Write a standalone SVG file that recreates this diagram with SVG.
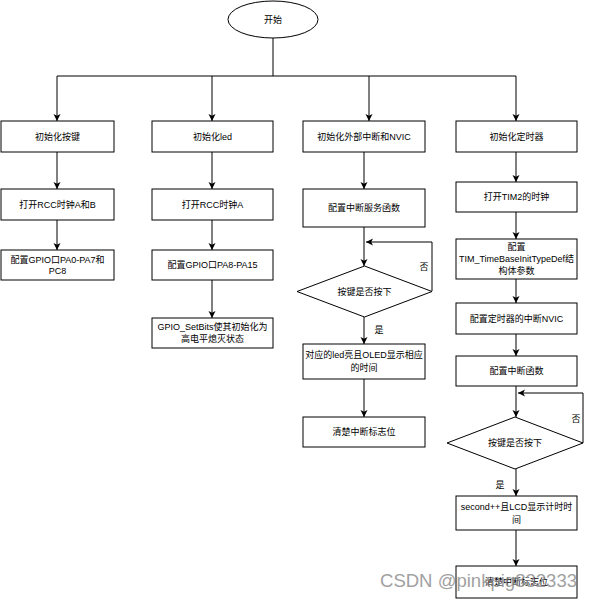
<svg xmlns="http://www.w3.org/2000/svg" width="592" height="600" viewBox="0 0 592 600">
<defs>
<style>
.b{fill:#fff;stroke:#000;stroke-width:1}
.t{font-family:"Liberation Sans","Noto Sans CJK SC",sans-serif;font-size:9px;fill:#000;text-anchor:middle;dominant-baseline:central}
.c{fill:none;stroke:#000;stroke-width:1}
.wm{font-family:"Liberation Sans",Arial,sans-serif;font-size:18px;fill:#8a8a8a;opacity:0.8}
</style>
<marker id="a" markerUnits="userSpaceOnUse" markerWidth="8" markerHeight="8" refX="7" refY="4" orient="auto">
<path d="M0,0.5 L7,4 L0,7.5 L1.8,4 z" fill="#000"/>
</marker>
</defs>
<rect width="592" height="600" fill="#fff"/>
<g id="connectors">
<path class="c" d="M273,38 V76"/>
<path class="c" d="M57,76 H516"/>
<path class="c" marker-end="url(#a)" d="M57,76 V121"/>
<path class="c" marker-end="url(#a)" d="M212,76 V121"/>
<path class="c" marker-end="url(#a)" d="M369,76 V121"/>
<path class="c" marker-end="url(#a)" d="M516,76 V121"/>
<path class="c" marker-end="url(#a)" d="M57,152 V189"/>
<path class="c" marker-end="url(#a)" d="M57,220 V250"/>
<path class="c" marker-end="url(#a)" d="M212,152 V189"/>
<path class="c" marker-end="url(#a)" d="M212,220 V250"/>
<path class="c" marker-end="url(#a)" d="M212,280 V318"/>
<path class="c" marker-end="url(#a)" d="M364,152 V189"/>
<path class="c" marker-end="url(#a)" d="M364,227 V266"/>
<path class="c" marker-end="url(#a)" d="M432,291 V242 H366"/>
<path class="c" marker-end="url(#a)" d="M364,317 V344"/>
<path class="c" marker-end="url(#a)" d="M364,379 V417"/>
<path class="c" marker-end="url(#a)" d="M516,152 V182"/>
<path class="c" marker-end="url(#a)" d="M516,212 V239"/>
<path class="c" marker-end="url(#a)" d="M516,279 V303"/>
<path class="c" marker-end="url(#a)" d="M516,334 V356"/>
<path class="c" marker-end="url(#a)" d="M516,386 V417"/>
<path class="c" marker-end="url(#a)" d="M583,443 V393 H518"/>
<path class="c" marker-end="url(#a)" d="M516,469 V496"/>
<path class="c" marker-end="url(#a)" d="M516,530 V566"/>
<text class="t" x="424" y="267">否</text>
<text class="t" x="379" y="330">是</text>
<text class="t" x="576" y="419">否</text>
<text class="t" x="500" y="485">是</text>
</g>
<g id="start"><ellipse class="b" cx="273" cy="19.5" rx="45" ry="18.5"/><text class="t" x="273" y="19.5">开始</text></g>
<g id="k1"><rect class="b" x="1" y="121" width="113" height="31"/><text class="t" x="57.5" y="136.5">初始化按键</text></g>
<g id="k2"><rect class="b" x="1" y="189" width="113" height="31"/><text class="t" x="57.5" y="204.5">打开RCC时钟A和B</text></g>
<g id="k3"><rect class="b" x="1" y="250" width="113" height="30"/><text class="t" x="57.5" y="260">配置GPIO口PA0-PA7和</text><text class="t" x="57.5" y="271">PC8</text></g>
<g id="l1"><rect class="b" x="152" y="121" width="121" height="31"/><text class="t" x="212.5" y="136.5">初始化led</text></g>
<g id="l2"><rect class="b" x="152" y="189" width="121" height="31"/><text class="t" x="212.5" y="204.5">打开RCC时钟A</text></g>
<g id="l3"><rect class="b" x="152" y="250" width="121" height="30"/><text class="t" x="212.5" y="265">配置GPIO口PA8-PA15</text></g>
<g id="l4"><rect class="b" x="152" y="318" width="121" height="30"/><text class="t" x="212.5" y="327">GPIO_SetBits使其初始化为</text><text class="t" x="212.5" y="339">高电平熄灭状态</text></g>
<g id="e1"><rect class="b" x="303" y="121" width="122" height="31"/><text class="t" x="364" y="136.5">初始化外部中断和NVIC</text></g>
<g id="e2"><rect class="b" x="303" y="189" width="122" height="38"/><text class="t" x="364" y="208">配置中断服务函数</text></g>
<g id="e3"><polygon class="b" points="364.5,266 432,291.5 364.5,317 297,291.5"/><text class="t" x="364.5" y="291.5">按键是否按下</text></g>
<g id="e4"><rect class="b" x="303" y="344" width="122" height="35"/><text class="t" x="364" y="355">对应的led亮且OLED显示相应</text><text class="t" x="364" y="368">的时间</text></g>
<g id="e5"><rect class="b" x="303" y="417" width="122" height="30"/><text class="t" x="364" y="432">清楚中断标志位</text></g>
<g id="t1"><rect class="b" x="456" y="121" width="121" height="31"/><text class="t" x="516.5" y="136.5">初始化定时器</text></g>
<g id="t2"><rect class="b" x="456" y="182" width="121" height="30"/><text class="t" x="516.5" y="197">打开TIM2的时钟</text></g>
<g id="t3"><rect class="b" x="456" y="239" width="121" height="40"/><text class="t" x="516.5" y="247">配置</text><text class="t" x="516.5" y="259">TIM_TimeBaseInitTypeDef结</text><text class="t" x="516.5" y="271">构体参数</text></g>
<g id="t4"><rect class="b" x="456" y="303" width="121" height="31"/><text class="t" x="516.5" y="318.5">配置定时器的中断NVIC</text></g>
<g id="t5"><rect class="b" x="456" y="356" width="121" height="30"/><text class="t" x="516.5" y="371">配置中断函数</text></g>
<g id="t6"><polygon class="b" points="515,417 583,443 515,469 447,443"/><text class="t" x="515" y="443">按键是否按下</text></g>
<g id="t7"><rect class="b" x="456" y="496" width="121" height="34"/><text class="t" x="516.5" y="507">second++且LCD显示计时时</text><text class="t" x="516.5" y="520">间</text></g>
<g id="t8"><rect class="b" x="456" y="566" width="121" height="32"/><text class="t" x="516.5" y="582">清楚中断标志位</text></g>
<text class="wm" x="380" y="587" textLength="197" lengthAdjust="spacingAndGlyphs">CSDN @pinkpig832333</text>
</svg>
